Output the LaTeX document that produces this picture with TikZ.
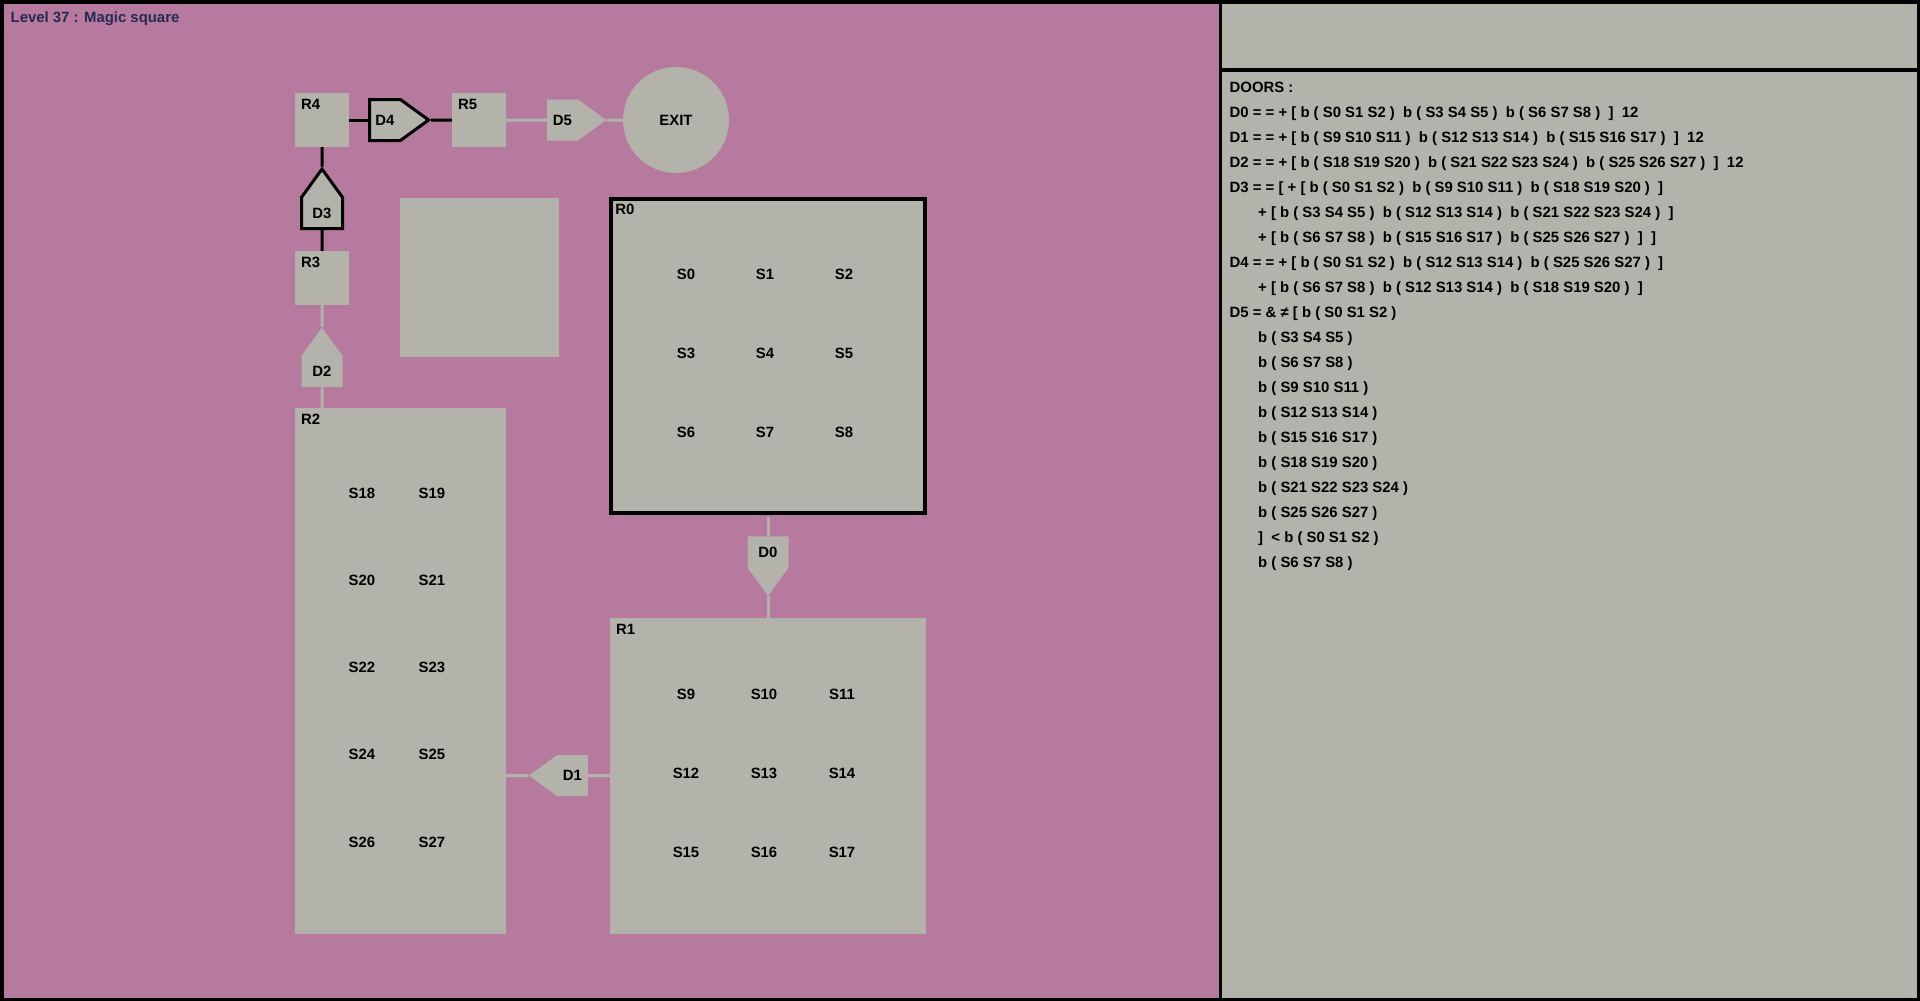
\documentclass[tikz,border=0pt]{standalone}
\usepackage{fontspec}
\setmainfont{Liberation Sans}
\usetikzlibrary{shapes.symbols, shapes.geometric, calc}
\definecolor{plum}{RGB}{182,122,158}
\definecolor{stone}{RGB}{179,179,171}
\definecolor{ink}{RGB}{40,40,80}
\newcommand\indt{\hspace*{28.5pt}}

\begin{document}
\begin{tikzpicture}[x=1pt, y=-1pt,
    every node/.style={font=\fontsize{14.9}{25}\selectfont\bfseries},
    room/.style={fill=stone, inner sep=0pt, minimum width=54pt, minimum height=54pt},
    roomtag/.style={anchor=base west, inner sep=0pt, xshift=6pt, yshift=-17pt},
    door/.style={signal, signal pointer angle=72, fill=stone, inner sep=0pt},
    doorh/.style={door, minimum width=59pt, minimum height=41pt},
    doorv/.style={door, minimum width=41pt, minimum height=44.5pt},
    slot/.style={inner sep=0pt},
    link/.style={line width=3pt, stone},
    lock/.style={line width=3pt, black}
]
\useasboundingbox (0,0) rectangle (1920,1001);
\fill[plum] (0,0) rectangle (1220,1001);
\fill[stone] (1220,0) rectangle (1920,1001);

\node[anchor=base west, inner sep=0pt, text=ink] (title) at (10.5,22.5) {Level 37 : Magic square};

\node[room, label={[roomtag]north west:R4}] (R4) at (322,120) {};
\node[room, label={[roomtag]north west:R5}] (R5) at (479,120) {};
\node[room, label={[roomtag]north west:R3}] (R3) at (322,278) {};
\node[room, minimum width=159pt, minimum height=159pt] (blank) at (479.5,277.5) {};
\node[room, minimum width=211pt, minimum height=526pt, label={[roomtag]north west:R2}] (R2) at (400.5,671) {};
\node[room, draw=black, line width=3.5pt, minimum width=314pt, minimum height=314pt, label={[roomtag]north west:R0}] (R0) at (768,356) {};
\node[room, minimum width=316pt, minimum height=316pt, label={[roomtag]north west:R1}] (R1) at (768,776) {};
\node[circle, fill=stone, inner sep=0pt, minimum size=106pt] (exit) at (676,120) {EXIT};

\node[doorh, signal to=east, draw=black, line width=3pt] (D4) at (385,120) {D4};
\node[doorh, signal to=east] (D5) at (562.5,120) {D5};
\node[doorv, signal to=north, draw=black, line width=3pt] (D3) at (322,213) {D3};
\node[doorv, signal to=north] (D2) at (322,371.5) {D2};
\node[doorv, signal to=south] (D0) at (768,552) {D0};
\node[doorh, signal to=west] (D1) at (572.5,775.5) {D1};

\foreach \r in {0,1,2}
  \foreach \c in {0,1,2} {
    \pgfmathtruncatemacro\k{3*\r+\c}
    \node[slot] (S\k) at (686+79*\c, 274+79*\r) {S\k};
    \pgfmathtruncatemacro\k{9+3*\r+\c}
    \node[slot] (S\k) at (686+78*\c, 694+79*\r) {S\k};
  }
\foreach \r in {0,...,4}
  \foreach \c in {0,1} {
    \pgfmathtruncatemacro\k{18+2*\r+\c}
    \node[slot] (S\k) at (362+70*\c, 493+87.25*\r) {S\k};
  }

\draw[lock] (R4) -- (D4);
\draw[lock] (D4) -- (R5);
\draw[link] (R5) -- (D5);
\draw[link] (D5) -- (exit);
\draw[lock] (R4) -- (D3);
\draw[lock] (D3) -- (R3);
\draw[link] (R3) -- (D2);
\draw[link] (D2) -- (D2 |- R2.north);
\draw[link, shorten <=2pt] (R0) -- (D0);
\draw[link] (D0) -- (R1);
\draw[link] (R2.east |- D1) -- (D1);
\draw[link] (D1) -- (R1.west |- D1);

\node[anchor=north west, align=left, inner sep=0pt] (doors) at (1229.5,81.5) {DOORS :\\
D0 = = + [ b ( S0 S1 S2 )~ b ( S3 S4 S5 )~ b ( S6 S7 S8 )~ ]~ 12\\
D1 = = + [ b ( S9 S10 S11 )~ b ( S12 S13 S14 )~ b ( S15 S16 S17 )~ ]~ 12\\
D2 = = + [ b ( S18 S19 S20 )~ b ( S21 S22 S23 S24 )~ b ( S25 S26 S27 )~ ]~ 12\\
D3 = = [ + [ b ( S0 S1 S2 )~ b ( S9 S10 S11 )~ b ( S18 S19 S20 )~ ]\\
\indt + [ b ( S3 S4 S5 )~ b ( S12 S13 S14 )~ b ( S21 S22 S23 S24 )~ ]\\
\indt + [ b ( S6 S7 S8 )~ b ( S15 S16 S17 )~ b ( S25 S26 S27 )~ ]~ ]\\
D4 = = + [ b ( S0 S1 S2 )~ b ( S12 S13 S14 )~ b ( S25 S26 S27 )~ ]\\
\indt + [ b ( S6 S7 S8 )~ b ( S12 S13 S14 )~ b ( S18 S19 S20 )~ ]\\
D5 = \& ≠ [ b ( S0 S1 S2 )\\
\indt b ( S3 S4 S5 )\\
\indt b ( S6 S7 S8 )\\
\indt b ( S9 S10 S11 )\\
\indt b ( S12 S13 S14 )\\
\indt b ( S15 S16 S17 )\\
\indt b ( S18 S19 S20 )\\
\indt b ( S21 S22 S23 S24 )\\
\indt b ( S25 S26 S27 )\\
\indt ]~ < b ( S0 S1 S2 )\\
\indt b ( S6 S7 S8 )};

\draw[line width=3.5pt] (1.75,1.75) rectangle (1918.25,999.25);
\draw[line width=3pt] (1220.5,0) -- (1220.5,1001);
\draw[line width=4pt] (1220,70) -- (1920,70);
\end{tikzpicture}
\end{document}
